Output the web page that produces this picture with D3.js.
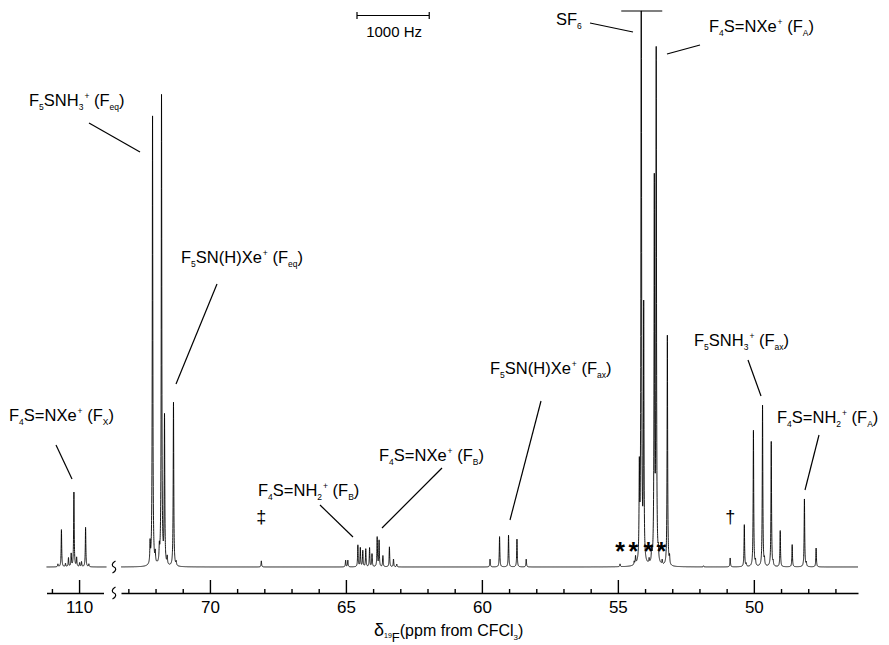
<!DOCTYPE html>
<html><head><meta charset="utf-8">
<script src="https://cdn.jsdelivr.net/npm/d3@7"></script>
<style>
body{margin:0;background:#fff;}
svg{display:block;font-family:"Liberation Sans",Arial,sans-serif;}
</style></head>
<body><svg id="c" width="889" height="645"></svg>
<script>
// ---------- data ----------
// main window, chemical shift (ppm) and relative intensity (100 = top of frame)
const mainPpm = [72.20,72.11,72.01,71.86,71.78,71.67,71.57,71.34,71.24,
  68.11,
  65.01,64.93,64.56,64.47,64.38,64.27,64.13,64.04,63.85,63.78,63.64,63.40,63.25,63.13,
  59.70,59.35,59.02,58.71,58.37,
  54.92,54.40,54.35,54.21,54.14,54.05,53.85,53.76,53.66,53.59,53.51,53.37,53.18,53.10,
  51.85,50.87,50.35,50.28,50.015,49.94,49.68,49.61,49.36,49.29,49.03,48.59,48.14,48.07,47.71];
const mainInt = [3.6,80.9,1.8,2.5,84.5,26.5,1.4,29.5,0.7,
  1.1,
  1.2,1.2,3.9,3.4,2.9,3.2,3.4,2.3,5.3,4.7,2.0,3.6,1.4,0.5,
  1.4,5.45,5.7,5.0,1.4,
  0.5,0.6,1.4,15.8,130,45.5,0.8,2.2,68,91.5,1.8,0.8,41.5,1.4,
  0.2,1.6,7.55,0.5,24.5,0.9,29.0,1.1,22.5,0.7,6.5,4.0,12.2,0.7,3.4];
// inset window around 110 ppm
const insetPpm = [110.78,110.65,110.50,110.39,110.29,110.19,110.09,109.98,109.91,109.76,109.64];
const insetInt = [0.5,6.7,0.6,1.6,2.3,13.4,1.6,0.7,0.9,7.1,0.5];
// axes
const mainDomain = [73.27, 46.17];
const insetDomain = [111.2, 109.1];
const mainMajor = [70,65,60,55,50];
const mainMinor = [73,72,71,69,68,67,66,64,63,62,61,59,58,57,56,54,53,52,51,49,48,47];
const insetMajor = [110];
const insetMinor = [111];
const markerStars = [54.92,54.43,53.88,53.40];

// ---------- drawing ----------
const svg = d3.select("#c");
const baseY = 567, topY = 11, axisY = 593;
const x = d3.scaleLinear().domain(mainDomain).range([121, 858]);
const xi = d3.scaleLinear().domain(insetDomain).range([46.5, 103.5]);
const y = d3.scaleLinear().domain([0,100]).range([baseY, topY]);
const gamma = 0.012;

function spectrum(ppms, ints, lo, hi, step){
  let pts = d3.range(lo, hi, step);
  pts = pts.concat(ppms.filter(p=>p>=lo&&p<=hi)).sort((a,b)=>a-b);
  return pts.map(p=>{
    let s=0;
    for(let i=0;i<ppms.length;i++){const d=p-ppms[i]; s+=ints[i]*gamma*gamma/(d*d+gamma*gamma);}
    return [p, Math.min(s, 100)];
  });
}
const line = (sx)=>d3.line().x(d=>sx(d[0])).y(d=>y(d[1]));

svg.append("path").datum(spectrum(mainPpm, mainInt, mainDomain[1], mainDomain[0], 0.002))
  .attr("d", line(x)).attr("fill","none").attr("stroke","#000").attr("stroke-width",0.9);
svg.append("path").datum(spectrum(insetPpm, insetInt, 108.99, 111.2, 0.002))
  .attr("d", line(xi)).attr("fill","none").attr("stroke","#000").attr("stroke-width",0.9);

// truncation bar on SF6 line
const sf6 = mainPpm[mainInt.indexOf(d3.max(mainInt))];
svg.append("line").attr("x1", x(sf6)-20).attr("x2", x(sf6)+21)
  .attr("y1", y(100)).attr("y2", y(100)).attr("stroke","#000").attr("stroke-width",1.2);

// axes
function drawAxis(sx, major, minor){
  const g = svg.append("g").attr("transform",`translate(0,${axisY})`);
  g.call(d3.axisBottom(sx).tickValues(major).tickSizeInner(-13).tickSizeOuter(0).tickPadding(8)
    .tickFormat(d3.format("d")));
  const g2 = svg.append("g").attr("transform",`translate(0,${axisY})`);
  g2.call(d3.axisBottom(sx).tickValues(minor).tickSizeInner(-4).tickSizeOuter(0).tickFormat(""));
  g2.select(".domain").remove();
  [g,g2].forEach(a=>{
    a.selectAll("path,line").attr("stroke","#000").attr("stroke-width",1.4);
  });
  g.selectAll("text").attr("font-size",17).attr("font-family","Liberation Sans, Arial, sans-serif").attr("fill","#000");
}
drawAxis(x, mainMajor, mainMinor);
drawAxis(xi, insetMajor, insetMinor);

// break marks
[baseY, axisY].forEach(cy=>{
  svg.append("path").attr("d",`M115.5,${cy-6} C111.5,${cy-4} 111.5,${cy-1} 114,${cy} C116.5,${cy+1} 116.5,${cy+4} 112.5,${cy+6}`)
    .attr("fill","none").attr("stroke","#000").attr("stroke-width",1.2);
});

// rich text helper
function rich(xp, yp, segs, size){
  const t = svg.append("text").attr("x",xp).attr("y",yp).attr("font-size",size||16).attr("fill","#000");
  let shift = 0;
  segs.forEach(s=>{
    const ts = t.append("tspan").text(s[0]);
    let own = 0;
    if(s[1]==="sub"){ ts.attr("font-size",8.5); own = 4; }
    else if(s[1]==="sup"){ ts.attr("font-size",8.5); ts.attr("dx",1); own = -7; }
    ts.attr("dy", own - shift);
    shift = own;
  });
  return t;
}
const labels = [
  {x:29,y:106,s:[["F"],["5","sub"],["SNH"],["3","sub"],["+","sup"],[" (F"],["eq","sub"],[")"]], l:[89,123,140,152]},
  {x:181,y:263,s:[["F"],["5","sub"],["SN(H)Xe"],["+","sup"],[" (F"],["eq","sub"],[")"]], l:[217,284,176,384]},
  {x:9,y:421,s:[["F"],["4","sub"],["S=NXe"],["+","sup"],[" (F"],["X","sub"],[")"]], l:[56,445,72,479]},
  {x:258,y:496,s:[["F"],["4","sub"],["S=NH"],["2","sub"],["+","sup"],[" (F"],["B","sub"],[")"]], l:[320,505,353,537]},
  {x:379,y:461,s:[["F"],["4","sub"],["S=NXe"],["+","sup"],[" (F"],["B","sub"],[")"]], l:[442,468,382,528]},
  {x:490,y:374,s:[["F"],["5","sub"],["SN(H)Xe"],["+","sup"],[" (F"],["ax","sub"],[")"]], l:[541,401,510,520]},
  {x:556,y:25,s:[["SF"],["6","sub"]], l:[590,23,633,32]},
  {x:709,y:32,s:[["F"],["4","sub"],["S=NXe"],["+","sup"],[" (F"],["A","sub"],[")"]], l:[700,45,667,54]},
  {x:694,y:346,s:[["F"],["5","sub"],["SNH"],["3","sub"],["+","sup"],[" (F"],["ax","sub"],[")"]], l:[748,360,761,396]},
  {x:777,y:423,s:[["F"],["4","sub"],["S=NH"],["2","sub"],["+","sup"],[" (F"],["A","sub"],[")"]], l:[819,435,805,490]}
];
labels.forEach(d=>{
  rich(d.x,d.y,d.s,16.5);
  svg.append("line").attr("x1",d.l[0]).attr("y1",d.l[1]).attr("x2",d.l[2]).attr("y2",d.l[3])
    .attr("stroke","#000").attr("stroke-width",1.2);
});

// impurity markers
svg.append("text").attr("x",x(68.11)).attr("y",523).attr("text-anchor","middle").attr("font-size",18).attr("fill","#000").text("‡");
svg.append("text").attr("x",x(50.87)).attr("y",523).attr("text-anchor","middle").attr("font-size",18).attr("fill","#000").text("†");
markerStars.forEach(p=>{
  svg.append("text").attr("x",x(p)).attr("y",560).attr("text-anchor","middle").attr("fill","#000")
    .attr("font-size",25).attr("font-weight","bold").text("*");
});

// 1000 Hz scale bar
const hzPpm = 1000/376.5;
const bx0 = x(mainDomain[0]) + 236, bx1 = bx0 + (x(70)-x(70+hzPpm));
svg.append("path").attr("d",`M${bx0},12V19M${bx0},15.5H${bx1}M${bx1},12V19`)
  .attr("fill","none").attr("stroke","#000").attr("stroke-width",1.2);
svg.append("text").attr("x",(bx0+bx1)/2+1).attr("y",37).attr("text-anchor","middle").attr("font-size",15).attr("fill","#000").text("1000 Hz");

// axis title
const tt = svg.append("text").attr("x",374).attr("y",636).attr("font-size",16).attr("fill","#000");
tt.append("tspan").attr("font-size",18).text("δ");
tt.append("tspan").attr("font-size",7).attr("dy",2).text("19");
tt.append("tspan").attr("font-size",13).attr("dy",4).text("F");
tt.append("tspan").attr("dy",-6).text("(ppm from CFCl");
tt.append("tspan").attr("font-size",8).attr("dy",4).text("3");
tt.append("tspan").attr("dy",-4).text(")");
</script></body></html>
